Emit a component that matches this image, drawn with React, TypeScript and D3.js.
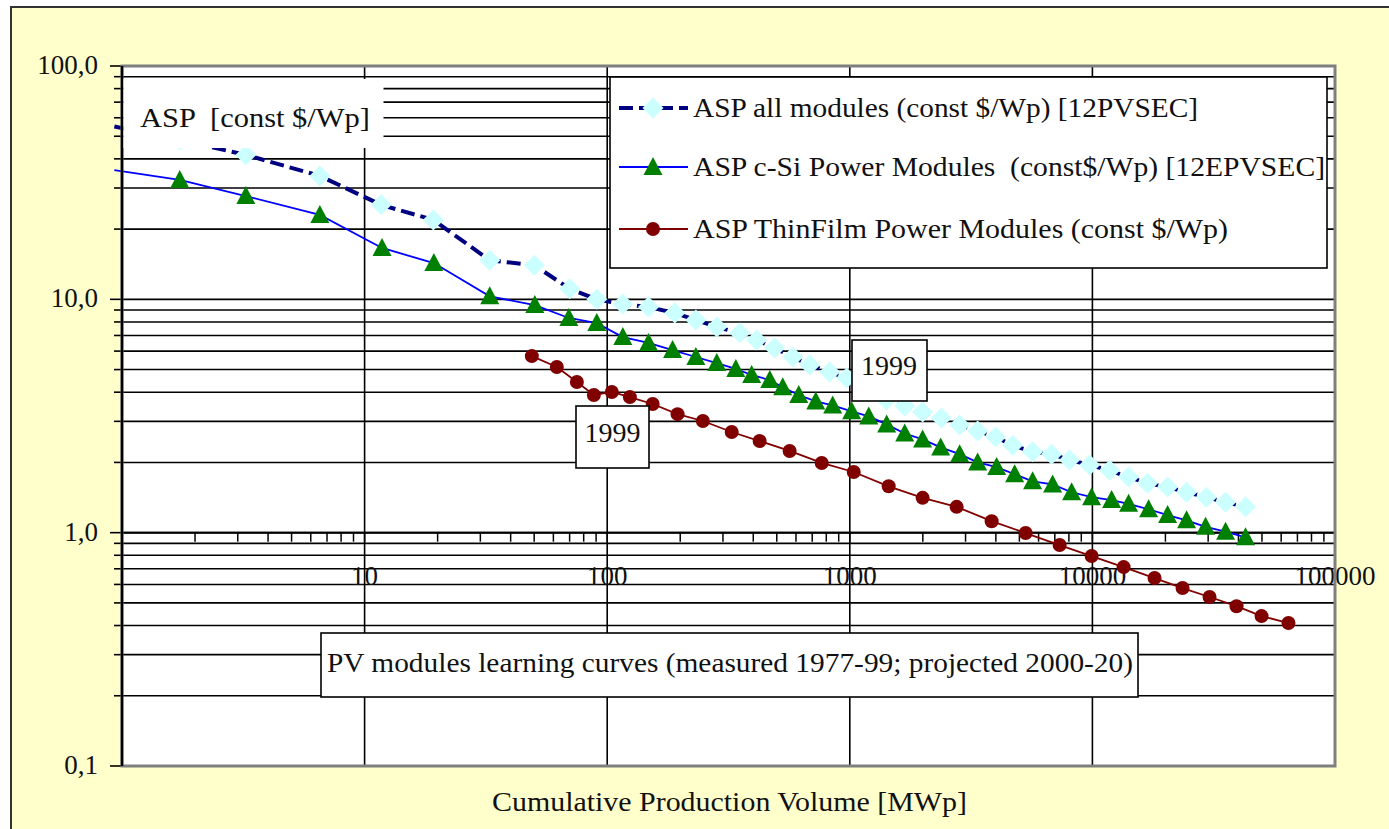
import React from 'react';
import * as d3 from 'd3';

// axis labels
const xTicks = [10, 100, 1000, 10000, 100000];
const xTickLabels = ['10', '100', '1000', '10000', '100000'];
const yTicks = [100, 10, 1, 0.1];
const yTickLabels = ['100,0', '10,0', '1,0', '0,1'];

// ASP all modules (const $/Wp) [12PVSEC]
const allModX = [0.93, 1.73, 3.24, 6.54, 11.7, 19.2, 32.8, 50.1, 70.1, 90.6, 116, 148, 190, 232, 283, 352, 413, 490, 582, 684, 826, 971, 1163, 1415, 1684, 1996, 2385, 2837, 3365, 3993, 4690, 5670, 6790, 8053, 9740, 11780, 14100, 16880, 20420, 24450, 29540, 35400, 42780];
const allModY = [55.0, 48.2, 41.6, 33.8, 25.4, 21.9, 14.7, 14.0, 11.1, 10.0, 9.55, 9.27, 8.74, 8.15, 7.61, 7.17, 6.69, 6.18, 5.66, 5.23, 4.88, 4.60, 4.25, 3.70, 3.49, 3.29, 3.10, 2.89, 2.73, 2.57, 2.37, 2.22, 2.17, 2.05, 1.95, 1.85, 1.73, 1.63, 1.57, 1.49, 1.42, 1.35, 1.29];

// ASP c-Si Power Modules
const cSiX = [0.93, 1.73, 3.24, 6.54, 11.8, 19.3, 32.8, 50.3, 69.5, 90.6, 116, 148, 186, 232, 283, 339, 394, 468, 529, 616, 724, 850, 1018, 1197, 1419, 1684, 1996, 2369, 2837, 3365, 4030, 4780, 5670, 6855, 8210, 9925, 12000, 14100, 17050, 20420, 24450, 29280, 35400, 42780];
const cSiY = [35.8, 32.5, 27.7, 23.0, 16.6, 14.3, 10.3, 9.45, 8.32, 7.91, 6.89, 6.50, 6.06, 5.66, 5.33, 5.03, 4.74, 4.51, 4.20, 3.89, 3.65, 3.51, 3.31, 3.15, 2.91, 2.66, 2.51, 2.32, 2.17, 2.00, 1.91, 1.78, 1.66, 1.61, 1.49, 1.42, 1.38, 1.33, 1.26, 1.19, 1.13, 1.06, 1.01, 0.955];

// ASP ThinFilm Power Modules
const thinX = [48.9, 62.0, 75.0, 88.1, 104.5, 124, 154, 195, 248, 326, 425, 565, 766, 1038, 1446, 1996, 2757, 3843, 5306, 7328, 9925, 13450, 18040, 23530, 30400, 39270, 49800, 64300];
const thinY = [5.71, 5.13, 4.42, 3.89, 4.01, 3.81, 3.56, 3.22, 3.01, 2.70, 2.47, 2.24, 1.99, 1.82, 1.58, 1.41, 1.29, 1.12, 0.996, 0.885, 0.794, 0.712, 0.639, 0.579, 0.530, 0.484, 0.439, 0.410];

const seriesNames = [
  'ASP all modules (const $/Wp) [12PVSEC]',
  'ASP c-Si Power Modules  (const$/Wp) [12EPVSEC]',
  'ASP ThinFilm Power Modules (const $/Wp)',
];

const FONT = 'Liberation Serif, DejaVu Serif, serif';
const INK = '#111';

const diamond = 'M0,-10.5L10.5,0L0,10.5L-10.5,0Z';
const triangle = 'M0,-10L9.5,8L-9.5,8Z';

export default function App() {
  const left = 122, right = 1335, top = 66, bottom = 766;
  const x = d3.scaleLog().domain([1, 100000]).range([left, right]);
  const y = d3.scaleLog().domain([0.1, 100]).range([bottom, top]);

  const line = d3.line<[number, number]>()
    .x(d => x(d[0]))
    .y(d => y(d[1]));

  const allPts = allModX.map((v, i) => [v, allModY[i]] as [number, number]);
  const cSiPts = cSiX.map((v, i) => [v, cSiY[i]] as [number, number]);
  const thinPts = thinX.map((v, i) => [v, thinY[i]] as [number, number]);
  const inside = (p: [number, number]) => p[0] >= 1;

  const yGrid = y.ticks();
  const xMinor = x.ticks();
  const y1 = y(1);

  const legendY = [108, 167, 229];
  const legendW = [505, 632, 535];
  const txt = { fontFamily: FONT, fill: INK } as React.CSSProperties;

  return (
    <svg width={1389} height={829} style={{ position: 'absolute', left: 0, top: 0, fontFamily: FONT }}>
      <rect x={11} y={7} width={1400} height={900} fill="#FFFFCC" stroke="#333" strokeWidth={2} />
      <rect x={left} y={top} width={right - left} height={bottom - top} fill="#fff" />

      {/* horizontal gridlines (major + minor) */}
      {yGrid.map((t, i) => (
        <line key={'hg' + i} x1={left} x2={right} y1={y(t)} y2={y(t)} stroke="#000" strokeWidth={1.6} />
      ))}
      {/* vertical gridlines */}
      {xTicks.slice(0, 4).map(t => (
        <line key={'vg' + t} x1={x(t)} x2={x(t)} y1={top} y2={bottom} stroke="#000" strokeWidth={1.6} />
      ))}

      {/* x axis at 1,0 */}
      <line x1={left} x2={right} y1={y1} y2={y1} stroke="#000" strokeWidth={2} />
      {xMinor.map((t, i) => (
        <line key={'xt' + i} x1={x(t)} x2={x(t)} y1={y1} y2={y1 + 9} stroke="#000" strokeWidth={1.5} />
      ))}
      {xTicks.map((t, i) => (
        <text key={'xl' + t} x={x(t)} y={585} textAnchor="middle" fontSize={27} style={txt}>{xTickLabels[i]}</text>
      ))}

      {/* y axis */}
      {yGrid.map((t, i) => {
        const major = yTicks.some(m => Math.abs(Math.log10(m) - Math.log10(t)) < 1e-6);
        return <line key={'yt' + i} x1={major ? left - 12 : left - 8} x2={left} y1={y(t)} y2={y(t)} stroke="#000" strokeWidth={1.6} />;
      })}
      {yTicks.map((t, i) => (
        <text key={'yl' + t} x={98} y={y(t) + 8} textAnchor="end" fontSize={27} style={txt}>{yTickLabels[i]}</text>
      ))}

      {/* series: all modules */}
      <path d={line(allPts) || ''} fill="none" stroke="#000080" strokeWidth={4} strokeDasharray="14 6" />
      {allPts.filter(inside).map((p, i) => (
        <path key={'am' + i} d={diamond} transform={`translate(${x(p[0])},${y(p[1])})`} fill="#CCFFFF" />
      ))}

      {/* series: c-Si */}
      <path d={line(cSiPts) || ''} fill="none" stroke="#0000FF" strokeWidth={1.8} />
      {cSiPts.filter(inside).map((p, i) => (
        <path key={'cs' + i} d={triangle} transform={`translate(${x(p[0])},${y(p[1])})`} fill="#008000" />
      ))}

      {/* series: thin film */}
      <path d={line(thinPts) || ''} fill="none" stroke="#800000" strokeWidth={1.8} />
      {thinPts.map((p, i) => (
        <circle key={'tf' + i} cx={x(p[0])} cy={y(p[1])} r={7} fill="#800000" />
      ))}

      {/* plot frame */}
      <rect x={left} y={top} width={right - left} height={bottom - top} fill="none" stroke="#7f7f7f" strokeWidth={3} />
      <line x1={left} x2={left} y1={top} y2={bottom} stroke="#000" strokeWidth={2.5} />

      {/* y title box */}
      <rect x={left + 1.5} y={79} width={260} height={69} fill="#fff" />
      <text x={140} y={127} fontSize={28} textLength={230} lengthAdjust="spacingAndGlyphs"
        style={{ ...txt, whiteSpace: 'pre' }}>ASP  [const $/Wp]</text>

      {/* legend */}
      <rect x={610} y={77} width={717} height={191} fill="#fff" stroke="#000" strokeWidth={1.6} />
      <line x1={619} x2={688} y1={legendY[0]} y2={legendY[0]} stroke="#000080" strokeWidth={4} strokeDasharray="14 6" />
      <path d={diamond} transform={`translate(653,${legendY[0]})`} fill="#CCFFFF" />
      <line x1={619} x2={688} y1={legendY[1]} y2={legendY[1]} stroke="#0000FF" strokeWidth={1.8} />
      <path d={triangle} transform={`translate(653,${legendY[1]})`} fill="#008000" />
      <line x1={619} x2={688} y1={legendY[2]} y2={legendY[2]} stroke="#800000" strokeWidth={1.8} />
      <circle cx={653} cy={legendY[2]} r={7} fill="#800000" />
      {seriesNames.map((s, i) => (
        <text key={'lg' + i} x={693} y={legendY[i] + 9} fontSize={27}
          textLength={legendW[i]} lengthAdjust="spacingAndGlyphs" style={{ ...txt, whiteSpace: 'pre' }}>{s}</text>
      ))}

      {/* 1999 callouts */}
      <rect x={576} y={406} width={73} height={62} fill="#fff" stroke="#000" strokeWidth={1.6} />
      <text x={612.5} y={442} textAnchor="middle" fontSize={28} style={txt}>1999</text>
      <rect x={852} y={340} width={75} height={61} fill="#fff" stroke="#000" strokeWidth={1.6} />
      <text x={889} y={375} textAnchor="middle" fontSize={28} style={txt}>1999</text>

      {/* note */}
      <rect x={321} y={633} width={817} height={64} fill="#fff" stroke="#000" strokeWidth={1.6} />
      <text x={327} y={672} fontSize={27} textLength={806} lengthAdjust="spacingAndGlyphs" style={txt}>
        PV modules learning curves (measured 1977-99; projected 2000-20)
      </text>

      {/* x title */}
      <text x={492} y={811} fontSize={27} textLength={475} lengthAdjust="spacingAndGlyphs" style={txt}>
        Cumulative Production Volume [MWp]
      </text>
    </svg>
  );
}
